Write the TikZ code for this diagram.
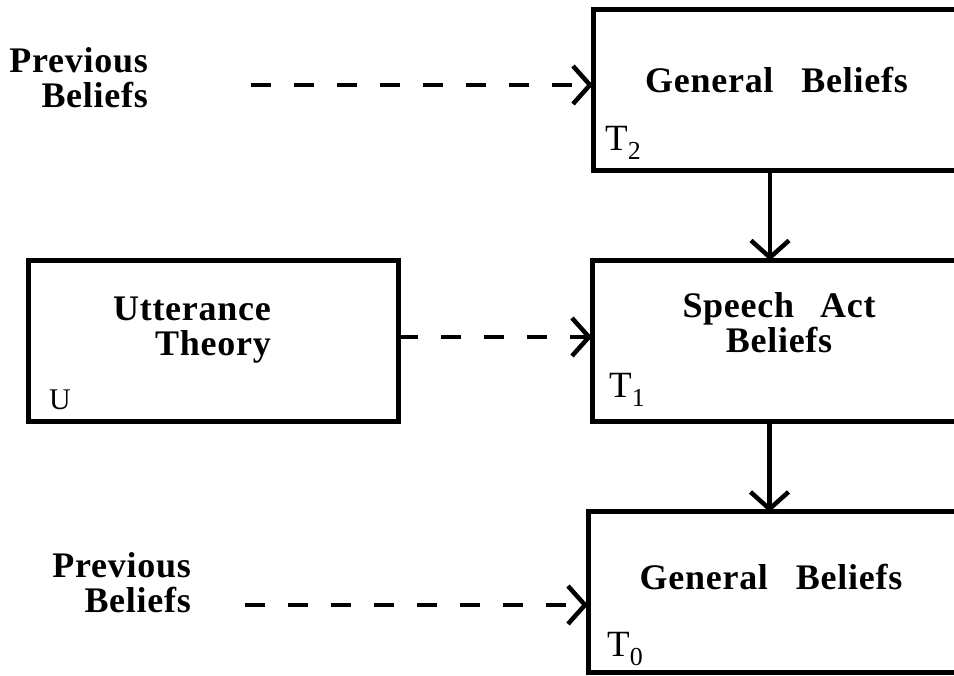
\documentclass[tikz,border=0pt]{standalone}
\usepackage{fontspec}
\setmainfont{Liberation Serif}
\newfontfamily\boxfont[LetterSpace=2]{Liberation Serif}
\usetikzlibrary{arrows.meta}

\begin{document}
\begin{tikzpicture}[x=1pt,y=1pt]
	\useasboundingbox (0,0) rectangle (954,676);
	\clip (0,0) rectangle (954,676);
	\tikzstyle{every node}=[inner sep=0pt]
	\tikzstyle{box}=[draw,line width=5pt,outer sep=0pt,minimum height=161pt]
	\tikzstyle{txt}=[font=\boxfont\bfseries\fontsize{36}{35}\selectfont,align=center]
	\tikzstyle{tag}=[font=\fontsize{37}{37}\selectfont,anchor=base west]
	\tikzstyle{flow}=[line width=4.5pt,-{Straight Barb[length=17pt,width=38pt]}]
	\tikzstyle{feed}=[flow,dash pattern=on 20pt off 23pt]
	%\tikzstyle{feed}=[flow,dashed]
	% boxes
	\node[box,minimum width=367pt] (gen2) at (776.5,586) {};
	\node[box,minimum width=368pt] (speech) at (776,335) {};
	\node[box,minimum width=372pt] (gen0) at (774,83.5) {};
	\node[box,minimum width=370pt] (utter) at (213,335) {};
	% texts
	\node[txt,anchor=base] (gen2txt) at (776.5,583) {General\hspace{28pt}Beliefs};
	\node[txt,anchor=north] (speechtxt) at (779,384) {Speech\hspace{26pt}Act\\Beliefs};
	\node[txt,anchor=base] (gen0txt) at (771,86) {General\hspace{28pt}Beliefs};
	\node[txt,align=right,anchor=north east] (uttertxt) at (271,379) {Utterance\\Theory};
	\node[txt,align=right,anchor=north east] (prev2) at (148,629) {Previous\\Beliefs};
	\node[txt,align=right,anchor=north east] (prev0) at (191,124) {Previous\\Beliefs};
	% corner tags
	\node[tag] (t2) at ([shift={(12,20)}]gen2.south west) {T\textsubscript{2}};
	\node[tag] (t1) at ([shift={(17,24)}]speech.south west) {T\textsubscript{1}};
	\node[tag] (t0) at ([shift={(19,16)}]gen0.south west) {T\textsubscript{0}};
	\node[tag,font=\fontsize{30}{30}\selectfont] (u) at ([shift={(21,12)}]utter.south west) {U};
	% solid arrows
	\coordinate (c2) at ([xshift=-6.5pt]gen2.south);
	\draw[flow] (c2) -- (c2 |- speech.north);
	\coordinate (c1) at ([xshift=-6.5pt]speech.south);
	\draw[flow] (c1) -- (c1 |- gen0.north);
	% dashed arrows
	\coordinate (p2) at (251,591);
	\draw[feed] (p2) -- (p2 -| gen2.west);
	\coordinate (uo) at ([yshift=4pt]utter.east);
	\draw[feed] (uo) -- (uo -| speech.west);
	\coordinate (p0) at (245,71);
	\draw[feed] (p0) -- (p0 -| gen0.west);
\end{tikzpicture}
\end{document}
